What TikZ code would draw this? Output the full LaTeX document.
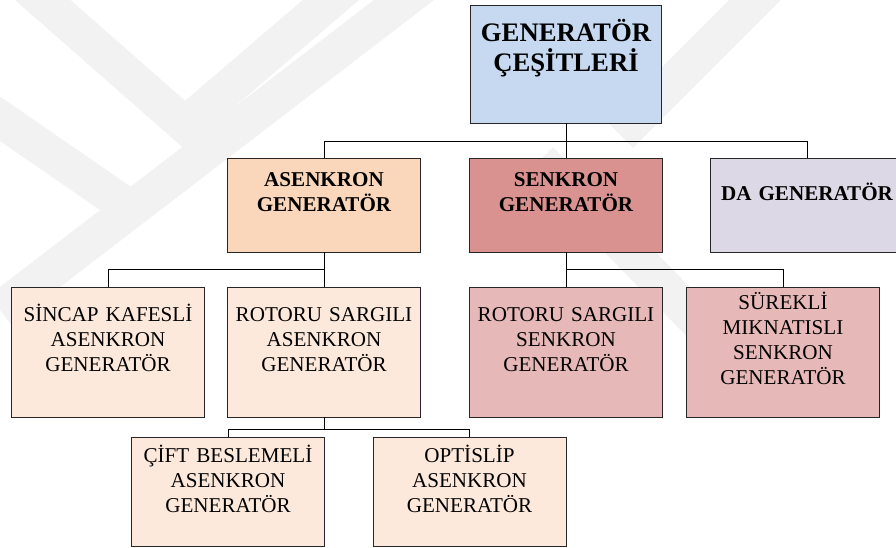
\documentclass[tikz,border=0pt]{standalone}
\usepackage{fontspec}
\setmainfont{Liberation Serif}
\usetikzlibrary{positioning}

\definecolor{rootblue}{HTML}{C6D9F0}
\definecolor{asepeach}{HTML}{FAD7BA}
\definecolor{senred}{HTML}{D9928F}
\definecolor{dalilac}{HTML}{DDD8E5}
\definecolor{asesub}{HTML}{FDE9DB}
\definecolor{sensub}{HTML}{E6B8B7}

\begin{document}
\begin{tikzpicture}[
    x=0.03cm, y=-0.03cm,
    box/.style={rectangle, draw=black!85, line width=0.8pt, minimum width=5.79cm, inner sep=0pt},
    rootbox/.style={box, fill=rootblue, minimum width=5.73cm, minimum height=3.54cm},
    mainbox/.style={box, minimum height=2.82cm},
    subbox/.style={box, minimum height=3.9cm},
    leafbox/.style={box, minimum height=3.27cm},
    txt/.style={anchor=base, text width=5.6cm, align=center, font=\fontsize{18pt}{21.3pt}\selectfont},
    btxt/.style={txt, font=\fontsize{18pt}{21.3pt}\selectfont\bfseries},
    link/.style={draw=black, line width=0.8pt},
    wm/.style={draw=black!5, line width=1.1cm}
]
    \useasboundingbox (0,0) rectangle (896,547);

    % watermark in the background
    \draw[wm] (20,-20) -- (185,125) -- (360,-25);
    \draw[wm] (-20,105) -- (125,205);
    \draw[wm] (430,-20) -- (0,310);
    \draw[wm] (775,-20) -- (620,135);
    \draw[wm] (540,160) -- (760,385);

    % 1. Root
    \node[rootbox] (root) at (566,64) {};
    \node[btxt, font=\fontsize{22.8pt}{25.6pt}\selectfont\bfseries, yshift=-1.11cm] at (root.north) {GENERATÖR\\ÇEŞİTLERİ};

    % 2. Main types
    \node[mainbox, fill=asepeach] (ase) at (324,205) {};
    \node[btxt, yshift=-0.87cm] at (ase.north) {ASENKRON\\GENERATÖR};
    \node[mainbox, fill=senred] (sen) at (566,205) {};
    \node[btxt, yshift=-0.87cm] at (sen.north) {SENKRON\\GENERATÖR};
    \node[mainbox, fill=dalilac] (da) at (807,205) {};
    \node[btxt, yshift=-1.3cm] at (da.north) {DA GENERATÖR};

    % Lines: root to main types
    \coordinate (rbus) at (566,141);
    \draw[link] (root.south) -- (rbus);
    \draw[link] (rbus) -| (ase.north);
    \draw[link] (rbus) -- (sen.north);
    \draw[link] (rbus) -| (da.north);

    % 3. Asenkron subtypes
    \node[subbox, fill=asesub] (sincap) at (108,352) {};
    \node[txt, yshift=-1.05cm] at (sincap.north) {SİNCAP KAFESLİ\\ASENKRON\\GENERATÖR};
    \node[subbox, fill=asesub] (rotase) at (324,352) {};
    \node[txt, yshift=-1.05cm] at (rotase.north) {ROTORU SARGILI\\ASENKRON\\GENERATÖR};

    \coordinate (abus) at (324,269);
    \draw[link] (ase.south) -- (abus);
    \draw[link] (abus) -| (sincap.north);
    \draw[link] (abus) -- (rotase.north);

    % 4. Senkron subtypes
    \node[subbox, fill=sensub] (rotsen) at (566,352) {};
    \node[txt, yshift=-1.05cm] at (rotsen.north) {ROTORU SARGILI\\SENKRON\\GENERATÖR};
    \node[subbox, fill=sensub] (surekli) at (783,352) {};
    \node[txt, yshift=-0.69cm] at (surekli.north) {SÜREKLİ\\MIKNATISLI\\SENKRON\\GENERATÖR};

    \coordinate (sbus) at (566,269);
    \draw[link] (sen.south) -- (sbus);
    \draw[link] (sbus) -- (rotsen.north);
    \draw[link] (sbus) -| (surekli.north);

    % 5. Rotoru sargili subtypes
    \node[leafbox, fill=asesub] (cift) at (228,491.5) {};
    \node[txt, yshift=-0.78cm] at (cift.north) {ÇİFT BESLEMELİ\\ASENKRON\\GENERATÖR};
    \node[leafbox, fill=asesub] (optislip) at (469.5,491.5) {};
    \node[txt, yshift=-0.78cm] at (optislip.north) {OPTİSLİP\\ASENKRON\\GENERATÖR};

    \coordinate (lbus) at (324,429);
    \draw[link] (rotase.south) -- (lbus);
    \draw[link] (lbus) -| (cift.north);
    \draw[link] (lbus) -| (optislip.north);

\end{tikzpicture}
\end{document}
